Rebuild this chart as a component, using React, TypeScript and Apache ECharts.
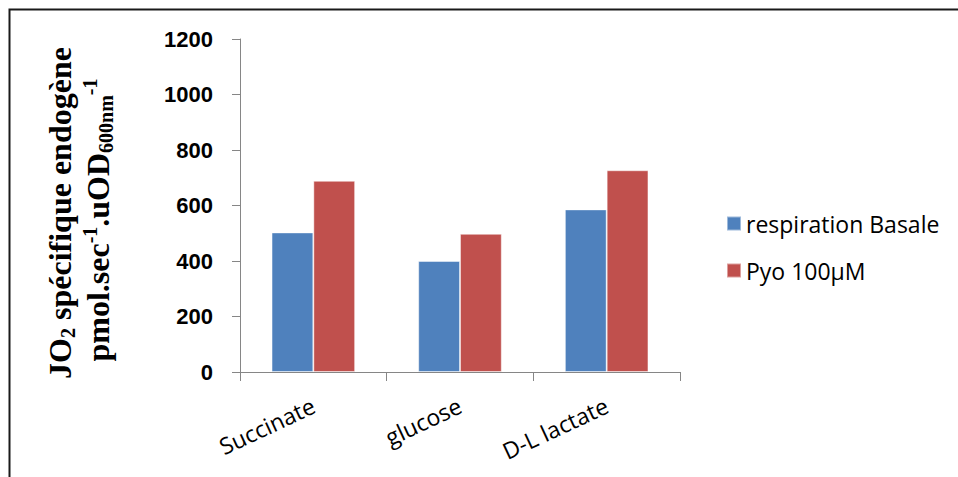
import React, { useEffect, useRef } from "react";
import * as echarts from "echarts";

const categories = ["Succinate", "glucose", "D-L lactate"];
const basale = [503, 400, 586];
const pyo = [689, 498, 727];
const seriesNames = ["respiration Basale", "Pyo 100µM"];
const yTicks = { min: 0, max: 1200, interval: 200 };

export default function App() {
  const ref = useRef<HTMLDivElement>(null);
  useEffect(() => {
    if (!ref.current) return;
    const chart = echarts.init(ref.current, undefined, { renderer: "svg" });
    const serif = "'Liberation Serif', 'Times New Roman', serif";
    const sans = "'Open Sans', sans-serif";
    chart.setOption({
      animation: false,
      backgroundColor: "#ffffff",
      grid: { left: 240, right: 278, top: 39, bottom: 105 },
      legend: {
        orient: "vertical",
        left: 721,
        top: 207,
        itemWidth: 14,
        itemHeight: 14,
        itemGap: 24,
        icon: "rect",
        textStyle: { fontFamily: sans, fontSize: 23, color: "#000" },
        data: seriesNames,
      },
      xAxis: {
        type: "category",
        data: categories,
        axisLine: { lineStyle: { color: "#868686", width: 1 } },
        axisTick: { show: true, length: 9, lineStyle: { color: "#868686" } },
        axisLabel: {
          rotate: 25,
          margin: 32,
          fontFamily: sans,
          fontSize: 23,
          color: "#000",
        },
      },
      yAxis: {
        type: "value",
        min: yTicks.min,
        max: yTicks.max,
        interval: yTicks.interval,
        splitLine: { show: false },
        axisLine: { show: true, lineStyle: { color: "#868686", width: 1 } },
        axisTick: { show: true, length: 8, lineStyle: { color: "#868686" } },
        axisLabel: {
          margin: 27,
          formatter: (v: number) => String(v),
          fontFamily: "'Liberation Sans', Arial, sans-serif",
          fontWeight: "bold",
          fontSize: 22,
          color: "#000",
        },
      },
      series: [
        {
          name: seriesNames[0],
          type: "bar",
          data: basale,
          barGap: "0%",
          barCategoryGap: "43%",
          itemStyle: { color: "#4F81BD", borderColor: "rgba(255,255,255,0.45)", borderWidth: 1 },
        },
        {
          name: seriesNames[1],
          type: "bar",
          data: pyo,
          barGap: "0%",
          barCategoryGap: "43%",
          itemStyle: { color: "#C0504D", borderColor: "rgba(255,255,255,0.45)", borderWidth: 1 },
        },
      ],
      graphic: [
        {
          type: "rect",
          shape: { x: 9.5, y: 9.5, width: 1000, height: 1000 },
          style: { fill: "none", stroke: "#1a1a1a", lineWidth: 2 },
          silent: true,
        },
        {
          type: "text",
          x: 60,
          y: 213,
          rotation: Math.PI / 2,
          style: {
            text: "{m|JO}{sub|2}{m| spécifique endogène}",
            textAlign: "center",
            textVerticalAlign: "middle",
            rich: {
              m: { fontFamily: serif, fontWeight: "bold", fontSize: 32, fill: "#000", lineHeight: 36 },
              sub: { fontFamily: serif, fontWeight: "bold", fontSize: 20, fill: "#000", lineHeight: 36, verticalAlign: "bottom" },
            },
          },
        },
        {
          type: "text",
          x: 98,
          y: 220,
          rotation: Math.PI / 2,
          style: {
            text: "{m|pmol.sec}{sup|-1}{m|.uOD}{sub|600nm}{sup|-1}",
            textAlign: "center",
            textVerticalAlign: "middle",
            rich: {
              m: { fontFamily: serif, fontWeight: "bold", fontSize: 32, fill: "#000", lineHeight: 36 },
              sup: { fontFamily: serif, fontWeight: "bold", fontSize: 20, fill: "#000", lineHeight: 20, verticalAlign: "top" },
              sub: { fontFamily: serif, fontWeight: "bold", fontSize: 20, fill: "#000", lineHeight: 36, verticalAlign: "bottom" },
            },
          },
        },
      ],
    });
    return () => chart.dispose();
  }, []);
  return (
    <div
      ref={ref}
      style={{ position: "fixed", left: 0, top: 0, width: 958, height: 477 }}
    />
  );
}
